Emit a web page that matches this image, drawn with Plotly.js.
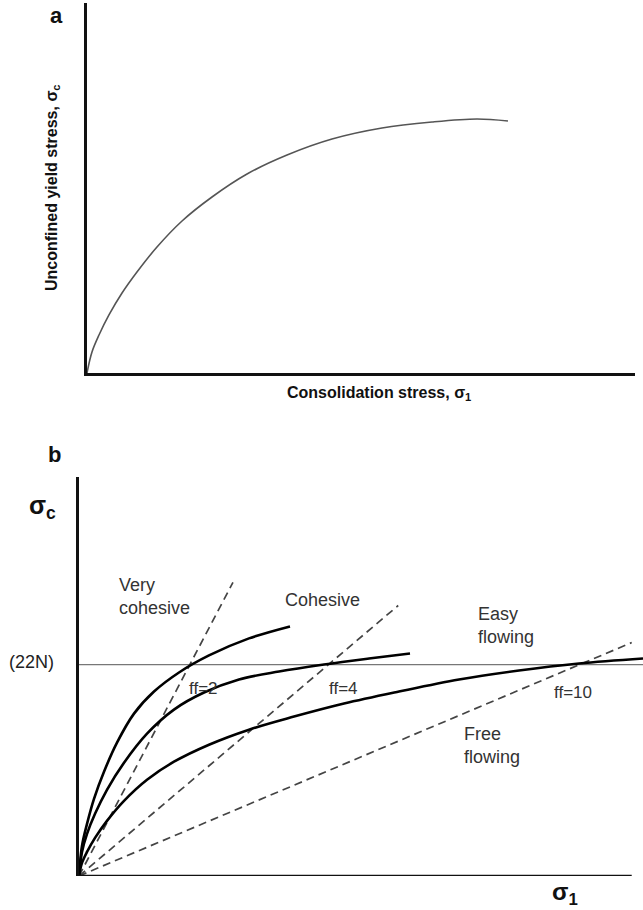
<!DOCTYPE html>
<html>
<head>
<meta charset="utf-8">
<script src="https://cdn.plot.ly/plotly-3.0.1.min.js"></script>
<style>html,body{margin:0;padding:0;background:#fff;}#chart{width:643px;height:910px;}</style>
</head>
<body>
<div id="chart"></div>
<script>
// ---------- Panel a: unconfined yield stress vs consolidation stress (arbitrary units) ----------
const aSigma1 = [0,0.91,2.19,4.01,6.39,9.12,12.77,17.34,22.81,29.20,36.50,44.71,53.83,62.96,71.17,76.82];
const aSigmaC = [0,5.68,10.27,15.68,21.62,27.30,34.05,41.08,47.57,53.78,58.92,63.24,66.22,67.84,68.65,68.11];

// ---------- Panel b: flow functions (arbitrary units) ----------
const veryCohX = [0,0.53,1.42,2.66,4.43,6.74,9.75,13.30,17.73,23.05,30.14,37.41];
const veryCohY = [0,7.54,13.07,19.35,26.13,33.42,40.70,46.23,51.01,55.28,59.55,62.56];
const cohX = [0,0.53,1.42,2.84,4.96,7.98,12.06,16.84,22.16,28.37,35.46,43.44,51.42,58.69];
const cohY = [0,6.03,10.55,15.58,21.61,28.39,35.68,41.71,45.98,49.25,51.26,53.02,54.52,55.78];
const easyX = [0,0.53,1.42,2.84,4.96,7.98,12.06,16.84,23.05,30.14,38.12,46.99,56.74,67.38,78.01,88.65,100];
const easyY = [0,3.27,6.03,9.55,13.82,18.84,24.12,28.64,32.91,36.68,39.95,43.22,46.23,49.25,51.51,53.27,54.52];

// flow-factor lines ff = σ1/σc (origin to end point)
const ff2X = [0, 27.3],  ff2Y = [0, 73.6];
const ff4X = [0, 56.6],  ff4Y = [0, 67.8];
const ff10X = [0, 98.0], ff10Y = [0, 58.5];

// reference stress level (22N)
const refLevel = 53.0;
const refX = [0, 100];
const refY = [refLevel, refLevel];
const xAxisEndB = 98.0;

// text labels in panel b
const labelText = ["Very<br>cohesive", "Cohesive", "Easy<br>flowing", "Free<br>flowing", "ff=2", "ff=4", "ff=10"];
const labelX    = [6.7, 36.2, 70.4, 67.9, 19.1, 44.0, 83.9];
const labelY    = [70.1, 69.1, 62.8, 32.7, 47.0, 47.0, 46.0];
const labelSize = [18, 18, 18, 18, 17, 17, 17];

const W = 643, H = 910;
const solidB = {color:'#000', width:2.6, shape:'spline', smoothing:1};
const dashB = {color:'#444', width:1.7, dash:'8px,5px'};

const traces = [
  {x:aSigma1, y:aSigmaC, xaxis:'x', yaxis:'y', mode:'lines', line:{color:'#555', width:1.6, shape:'spline', smoothing:1}, hoverinfo:'skip'},
  {x:refX, y:refY, xaxis:'x2', yaxis:'y2', mode:'lines', line:{color:'#777', width:1.2}, hoverinfo:'skip'},
  {x:ff2X, y:ff2Y, xaxis:'x2', yaxis:'y2', mode:'lines', line:dashB, hoverinfo:'skip'},
  {x:ff4X, y:ff4Y, xaxis:'x2', yaxis:'y2', mode:'lines', line:dashB, hoverinfo:'skip'},
  {x:ff10X, y:ff10Y, xaxis:'x2', yaxis:'y2', mode:'lines', line:dashB, hoverinfo:'skip'},
  {x:veryCohX, y:veryCohY, xaxis:'x2', yaxis:'y2', mode:'lines', line:solidB, hoverinfo:'skip'},
  {x:cohX, y:cohY, xaxis:'x2', yaxis:'y2', mode:'lines', line:solidB, hoverinfo:'skip'},
  {x:easyX, y:easyY, xaxis:'x2', yaxis:'y2', mode:'lines', line:solidB, hoverinfo:'skip'}
];

const baseAxis = {showgrid:false, zeroline:false, showticklabels:false, ticks:'', fixedrange:true};
const font = "Liberation Sans, Arial, sans-serif";

function paperNote(text, px, py, size, extra) {
  return Object.assign({text:text, xref:'paper', yref:'paper', x:px/W, y:1-py/H, xanchor:'center', yanchor:'middle', showarrow:false, font:{family:font, size:size, color:'#111'}}, extra || {});
}

const annotations = [
  paperNote('<b>a</b>', 56, 15, 22),
  paperNote('<b>b</b>', 55, 454, 22),
  paperNote('<b>Unconfined yield stress, σ<sub>c</sub></b>', 53, 188, 16, {textangle:-90}),
  paperNote('<b>Consolidation stress, σ<sub>1</sub></b>', 379, 393, 16),
  paperNote('<b>σ<sub>c</sub></b>', 42, 507, 25),
  paperNote('<b>σ<sub>1</sub></b>', 565, 893, 24),
  {text:'(22N)', xref:'paper', yref:'y2', x:56/W, xanchor:'right', yanchor:'middle', y:refLevel+0.7, showarrow:false, font:{family:font, size:18, color:'#222'}}
];
labelText.forEach((t,i)=>{
  annotations.push({text:t, xref:'x2', yref:'y2', x:labelX[i], y:labelY[i], xanchor:'left', yanchor:'middle', align:'left', showarrow:false, font:{family:font, size:labelSize[i], color:'#333'}});
});

const layout = {
  width:W, height:H, margin:{l:0,r:0,t:0,b:0}, paper_bgcolor:'#fff', plot_bgcolor:'rgba(0,0,0,0)', showlegend:false,
  xaxis: Object.assign({}, baseAxis, {domain:[87/W, 635/W], range:[0,100], showline:true, linecolor:'#111', linewidth:2.6, anchor:'y'}),
  yaxis: Object.assign({}, baseAxis, {domain:[1-373/H, 1-3/H], range:[0,100], showline:true, linecolor:'#111', linewidth:2.6, anchor:'x'}),
  xaxis2: Object.assign({}, baseAxis, {domain:[79/W, 1], range:[0,100], showline:false, anchor:'y2'}),
  yaxis2: Object.assign({}, baseAxis, {domain:[1-876/H, 1-477/H], range:[0,100], showline:true, linecolor:'#111', linewidth:2.6, anchor:'x2'}),
  shapes: [
    {type:'line', xref:'x2', yref:'y2', x0:0, x1:xAxisEndB, y0:0, y1:0, line:{color:'#111', width:2.6}}
  ],
  annotations: annotations
};

Plotly.newPlot('chart', traces, layout, {staticPlot:true, displayModeBar:false});
</script>
</body>
</html>
